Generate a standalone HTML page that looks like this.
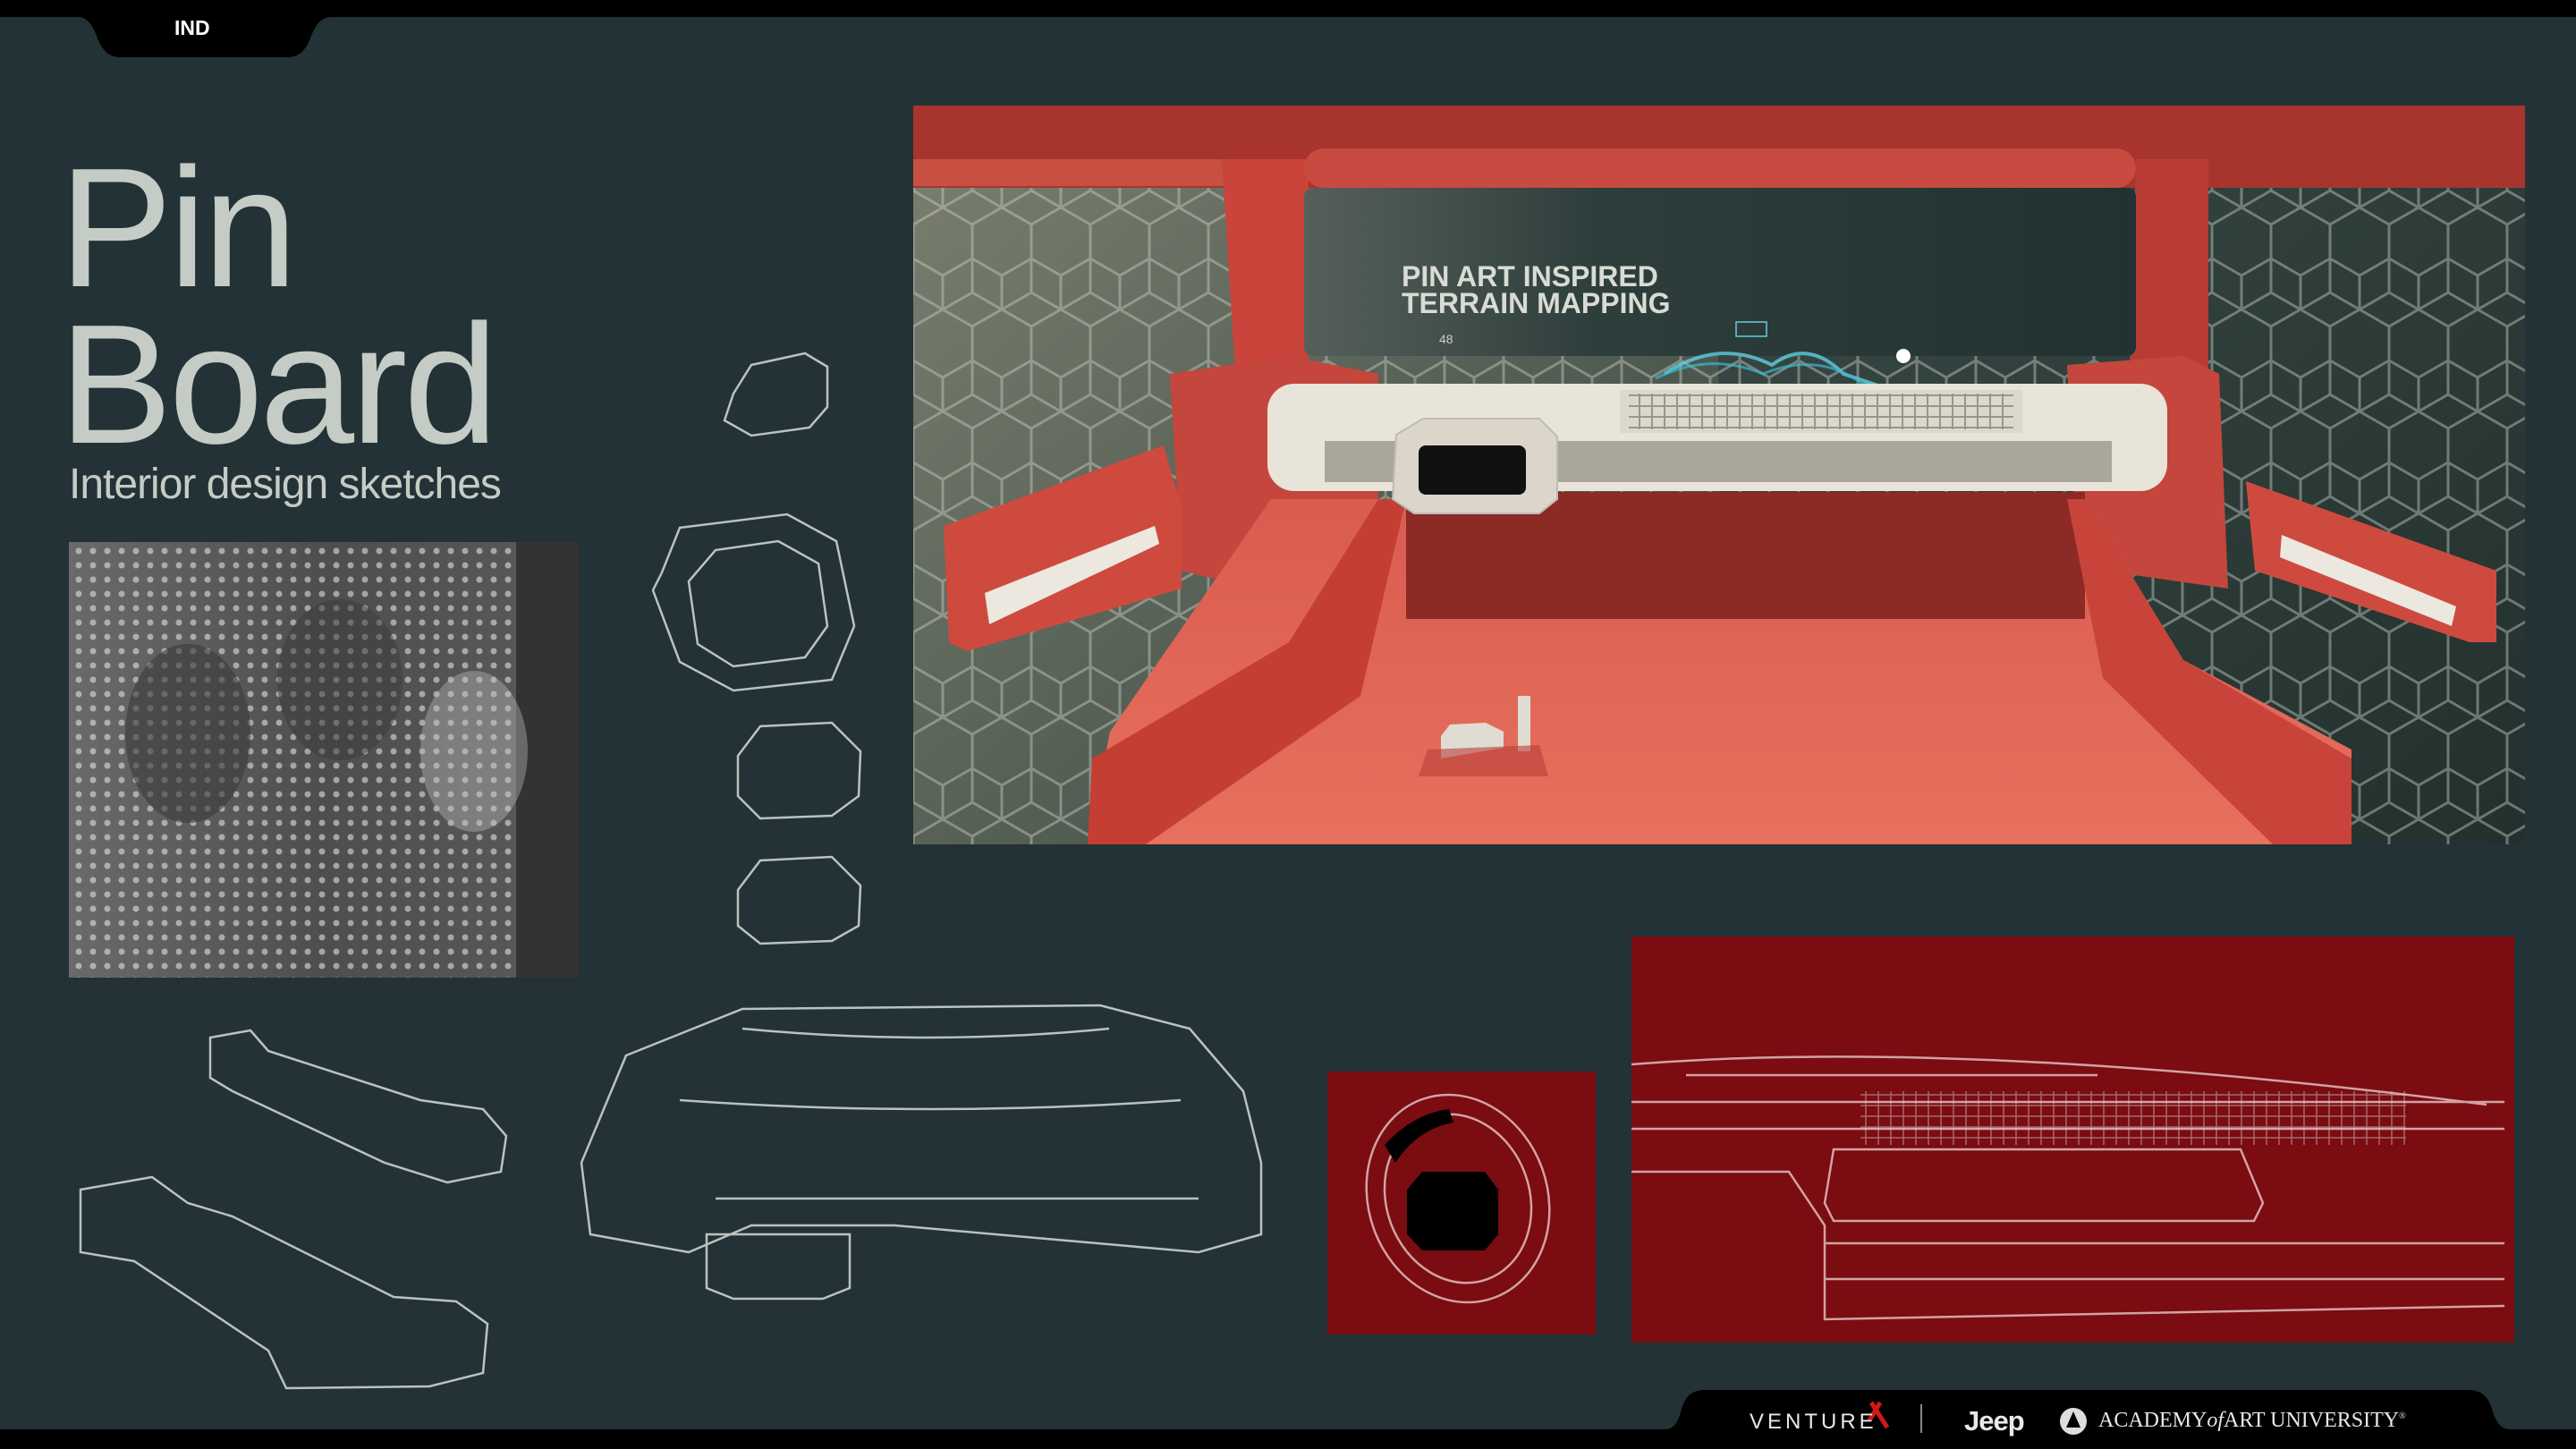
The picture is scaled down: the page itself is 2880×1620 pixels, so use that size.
<!DOCTYPE html>
<html><head><meta charset="utf-8">
<style>
html,body{margin:0;padding:0;background:#223236;}
body{width:2880px;height:1620px;overflow:hidden;position:relative;font-family:"Liberation Sans",sans-serif;}
.t{position:absolute;color:#c5cbc5;white-space:nowrap;}
</style></head>
<body>
<svg width="2880" height="1620" viewBox="0 0 2880 1620" style="position:absolute;left:0;top:0">
<defs>
<pattern id="hex" width="66" height="114" patternUnits="userSpaceOnUse">
<path d="M0 19 L33 0 L66 19 L66 57 L33 76 L0 57 Z M33 76 L33 114 M0 57 L0 95 L-33 114 M66 57 L66 95 L99 114 M0 95 L33 114 L66 95" fill="none" stroke="#c8ccc4" stroke-width="3" opacity="0.45"/>
</pattern>
<linearGradient id="lbg" x1="0" y1="0" x2="1" y2="1"><stop offset="0" stop-color="#7c8070"/><stop offset="1" stop-color="#34443e"/></linearGradient>
<linearGradient id="rbg" x1="0" y1="0" x2="1" y2="1"><stop offset="0" stop-color="#3a4a46"/><stop offset="1" stop-color="#22302e"/></linearGradient>
<linearGradient id="scr" x1="0" y1="0" x2="1" y2="0"><stop offset="0" stop-color="#56605a"/><stop offset="0.35" stop-color="#2e3e3c"/><stop offset="1" stop-color="#223232"/></linearGradient>
<linearGradient id="floor" x1="0" y1="0" x2="0" y2="1"><stop offset="0" stop-color="#d85c50"/><stop offset="1" stop-color="#e8705e"/></linearGradient>
<pattern id="dots" width="16" height="16" patternUnits="userSpaceOnUse"><circle cx="8" cy="8" r="3.5" fill="#e8e8e8" opacity="0.8"/></pattern>
<linearGradient id="ph" x1="0" y1="0" x2="1" y2="0"><stop offset="0" stop-color="#6a6a6a"/><stop offset="0.5" stop-color="#4e4e4e"/><stop offset="1" stop-color="#5a5a5a"/></linearGradient>
<pattern id="grid" width="14" height="12" patternUnits="userSpaceOnUse"><rect width="14" height="12" fill="none" stroke="#d8c8c8" stroke-width="1.5" opacity="0.7"/></pattern>
<pattern id="grid2" width="14" height="12" patternUnits="userSpaceOnUse"><rect width="14" height="12" fill="none" stroke="#9a968c" stroke-width="2"/></pattern>
</defs>
<rect x="0" y="0" width="2880" height="19" fill="#000"/>
<path d="M88 19 Q100 19 108 40 Q116 64 134 64 L322 64 Q340 64 348 40 Q356 19 370 19 Z" fill="#000"/>
<rect x="0" y="1598" width="2880" height="22" fill="#000"/>
<path d="M1862 1598 Q1875 1598 1880 1575 Q1886 1554 1905 1554 L2760 1554 Q2780 1554 2786 1575 Q2792 1598 2806 1598 Z" fill="#000"/>

<g transform="translate(1021,118)">
<rect x="0" y="0" width="900" height="826" fill="url(#lbg)"/>
<rect x="900" y="0" width="902" height="826" fill="url(#rbg)"/>
<rect x="0" y="0" width="1802" height="826" fill="url(#hex)"/>
<rect x="0" y="0" width="1802" height="92" fill="#a8342e"/>
<rect x="0" y="60" width="400" height="30" fill="#d05848" opacity="0.8"/>
<path d="M345 60 L442 60 L442 300 L360 300 Z" fill="#c9443a"/>
<path d="M1367 60 L1448 60 L1448 300 L1360 300 Z" fill="#b83c34"/>
<rect x="437" y="48" width="930" height="44" rx="22" fill="#c94a40"/>
<rect x="437" y="92" width="930" height="188" rx="10" fill="url(#scr)"/>
<text x="546" y="202" font-family="Liberation Sans Narrow, Liberation Sans, sans-serif" font-weight="bold" font-size="32" fill="#d8dcd4">PIN ART INSPIRED</text>
<text x="546" y="232" font-family="Liberation Sans Narrow, Liberation Sans, sans-serif" font-weight="bold" font-size="32" fill="#d8dcd4">TERRAIN MAPPING</text>
<text x="588" y="266" font-size="14" fill="#ccc">48</text>
<rect x="920" y="242" width="34" height="16" fill="none" stroke="#6cd" stroke-width="1.5"/>
<path d="M840 300 Q900 260 960 290 Q1000 260 1040 300 Q1100 320 1140 335" fill="none" stroke="#5fd0e0" stroke-width="4" opacity="0.8"/>
<path d="M830 305 Q890 275 950 300 Q1010 275 1060 310 Q1110 325 1150 330" fill="none" stroke="#3ab8d0" stroke-width="3" opacity="0.7"/>
<circle cx="1107" cy="280" r="8" fill="#fff"/>
<path d="M287 300 L420 280 L520 300 L520 520 L380 540 L300 520 Z" fill="#c4463c"/>
<path d="M1290 290 L1420 280 L1460 300 L1470 540 L1330 520 L1300 480 Z" fill="#c4463c"/>
<path d="M34 470 L280 380 L300 450 L300 540 L60 610 L40 600 Z" fill="#cf4a3e"/>
<path d="M80 545 L270 470 L275 490 L85 580 Z" fill="#ece8e0"/>
<path d="M1490 420 L1770 520 L1770 600 L1740 600 L1500 520 Z" fill="#cf4a3e"/>
<path d="M1530 480 L1725 560 L1720 582 L1528 505 Z" fill="#ece8e0"/>
<path d="M195 826 L220 700 L400 440 L1310 440 L1420 620 L1608 720 L1608 826 Z" fill="url(#floor)"/>
<path d="M551 432 L1310 432 L1310 574 L551 574 Z" fill="#8c2a26"/>
<path d="M195 826 L200 730 L420 600 L520 440 L551 440 L500 660 L260 826 Z" fill="#c43e34"/>
<path d="M1608 826 L1608 730 L1420 620 L1310 440 L1290 440 L1330 640 L1520 826 Z" fill="#c8443a"/>
<rect x="396" y="311" width="1006" height="120" rx="30" fill="#e9e4da"/>
<rect x="460" y="375" width="880" height="46" fill="#aaa69c"/>
<rect x="790" y="318" width="450" height="48" fill="#ddd8cc"/>
<rect x="800" y="322" width="430" height="40" fill="url(#grid2)"/>
<path d="M540 368 L570 350 L700 350 L720 370 L720 440 L700 456 L560 456 L536 440 Z" fill="#dcd6ca" stroke="#bbb" stroke-width="2"/>
<rect x="565" y="380" width="120" height="55" rx="8" fill="#111"/>
<path d="M590 730 L660 718 L660 700 L640 690 L600 692 L590 705 Z" fill="#e0dcd2"/>
<rect x="676" y="660" width="14" height="62" fill="#e0dcd2"/>
<path d="M565 750 L575 720 L700 715 L710 750 Z" fill="#b84038" opacity="0.6"/>
</g>

<rect x="77" y="606" width="570" height="487" fill="url(#ph)"/>
<rect x="77" y="606" width="500" height="487" fill="url(#dots)" opacity="0.7"/>
<rect x="577" y="606" width="70" height="487" fill="#333"/>
<ellipse cx="210" cy="820" rx="70" ry="100" fill="#3a3a3a" opacity="0.6"/>
<ellipse cx="380" cy="760" rx="70" ry="90" fill="#3a3a3a" opacity="0.5"/>
<ellipse cx="530" cy="840" rx="60" ry="90" fill="#bbb" opacity="0.4"/>

<g fill="none" stroke="#d6dcd8" stroke-width="2.5" opacity="0.85">
<path d="M820 440 L840 408 L900 395 L925 410 L925 455 L905 478 L840 487 L810 470 Z"/>
<path d="M740 640 L760 590 L880 575 L935 605 L955 700 L930 760 L820 772 L760 740 L730 660 Z"/>
<path d="M770 650 L800 615 L870 605 L915 630 L925 700 L900 735 L820 745 L780 720 Z"/>
<path d="M825 845 L850 812 L930 808 L962 840 L960 890 L930 912 L850 915 L825 890 Z"/>
<path d="M825 995 L850 962 L930 958 L962 990 L960 1035 L930 1052 L850 1055 L825 1035 Z"/>
<path d="M235 1160 L280 1152 L300 1175 L470 1230 L540 1240 L566 1270 L560 1310 L500 1322 L430 1300 L260 1220 L235 1205 Z"/>
<path d="M90 1330 L170 1316 L210 1345 L260 1360 L440 1450 L510 1455 L545 1480 L540 1535 L480 1550 L320 1552 L300 1510 L150 1410 L90 1400 Z"/>
<path d="M700 1180 L830 1128 L1230 1124 L1330 1150 L1390 1220 L1410 1300 L1410 1380 L1340 1400 L1000 1370 L840 1370 L770 1400 L660 1380 L650 1300 Z"/>
<path d="M830 1150 Q1040 1170 1240 1150 M760 1230 Q1040 1250 1320 1230 M800 1340 L1340 1340"/>
<path d="M790 1380 L950 1380 L950 1440 L920 1452 L820 1452 L790 1440 Z"/>
</g>

<rect x="1484" y="1198" width="300" height="294" fill="#7a0c12"/>
<rect x="1824" y="1047" width="987" height="454" fill="#7a0c12"/>
<g fill="none" stroke="#e8c8c8" stroke-width="2.5" opacity="0.8">
<ellipse cx="1630" cy="1340" rx="100" ry="118" transform="rotate(-20 1630 1340)"/>
<ellipse cx="1630" cy="1340" rx="80" ry="96" transform="rotate(-20 1630 1340)"/>
<path d="M1824 1190 Q2200 1160 2780 1235 M1885 1202 L2345 1202 M1824 1232 L2800 1232 M1824 1262 L2800 1262 M2050 1285 L2505 1285 L2530 1345 L2520 1365 L2050 1365 L2040 1345 Z M1824 1310 L2000 1310 L2040 1370 L2040 1475 L2800 1460 M2040 1390 L2800 1390 M2040 1430 L2800 1430"/>
</g>
<rect x="2080" y="1220" width="610" height="60" fill="url(#grid)" opacity="0.7"/>
<path d="M1573 1330 L1590 1310 L1660 1310 L1675 1330 L1675 1380 L1660 1398 L1590 1398 L1573 1380 Z" fill="#000"/>
<path d="M1548 1280 Q1580 1245 1620 1240 L1625 1255 Q1585 1262 1560 1300 Z" fill="#000"/>
<line x1="2148" y1="1570" x2="2148" y2="1602" stroke="#888" stroke-width="2"/>
<circle cx="2318" cy="1589" r="15" fill="#ddd"/>
<path d="M2318 1578 L2310 1596 L2326 1596 Z" fill="#000"/>
<path d="M2092 1568 L2110 1596 M2102 1568 L2090 1588" stroke="#d01818" stroke-width="5"/>
</svg>

<div class="t" style="left:195px;top:18px;font-size:23px;font-weight:bold;color:#fff;">IND</div>
<div class="t" style="left:66px;top:160px;font-size:190px;line-height:190px;letter-spacing:-4px;">Pin</div>
<div class="t" style="left:66px;top:335px;font-size:190px;line-height:190px;letter-spacing:-4px;">Board</div>
<div class="t" style="left:77px;top:514px;font-size:48px;line-height:56px;letter-spacing:-1px;">Interior design sketches</div>
<div class="t" style="left:1956px;top:1576px;font-size:24px;letter-spacing:4px;color:#e8e8e8;">VENTURE</div>
<div class="t" style="left:2196px;top:1571px;font-size:31px;font-weight:bold;letter-spacing:-1px;color:#e8e8e8;">Jeep</div>
<div class="t" style="left:2346px;top:1575px;font-size:24px;font-family:'Liberation Serif',serif;color:#e8e8e8;">ACADEMY<i>of</i>ART UNIVERSITY<sup style="font-size:10px">®</sup></div>
</body></html>
